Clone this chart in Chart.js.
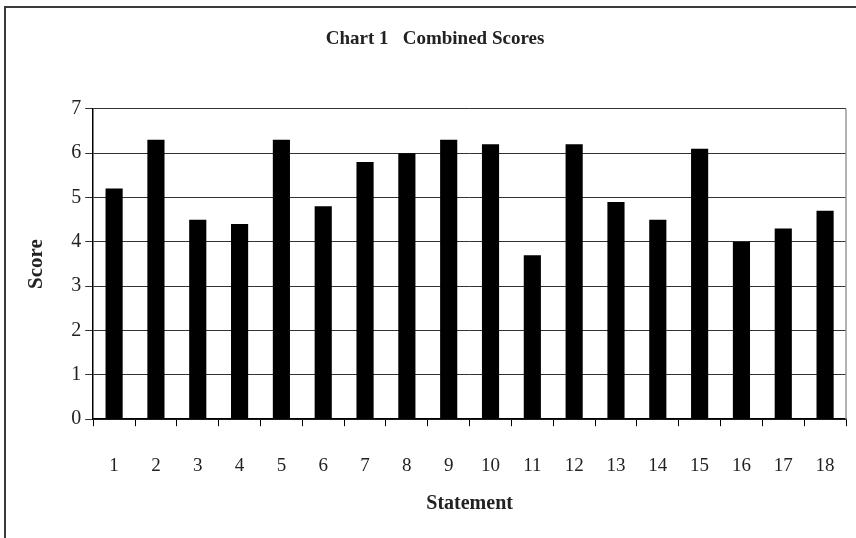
<!DOCTYPE html>
<html>
<head>
<meta charset="utf-8">
<script src="https://cdn.jsdelivr.net/npm/chart.js@4"></script>
<style>
  html, body { margin: 0; padding: 0; background: #fff; }
  #wrap { position: relative; width: 856px; height: 538px; overflow: hidden; }
  #frame { position: absolute; left: 4px; top: 6px; width: 900px; height: 600px;
           border-left: 2px solid #3a3a3a; border-top: 2px solid #3a3a3a; }
  canvas { position: absolute; left: 0; top: 0; }
</style>
</head>
<body>
<div id="wrap">
  <div id="frame"></div>
  <canvas id="scores" width="856" height="538"></canvas>
</div>
<script>
const statements = ['1','2','3','4','5','6','7','8','9','10','11','12','13','14','15','16','17','18'];
const scores = [5.2, 6.3, 4.5, 4.4, 6.3, 4.8, 5.8, 6.0, 6.3, 6.2, 3.7, 6.2, 4.9, 4.5, 6.1, 4.0, 4.3, 4.7];
const scoreTicks = [0, 1, 2, 3, 4, 5, 6, 7];

const serif = "'Liberation Serif', 'Times New Roman', serif";

// gray line on the right side of the plot area
const plotEdge = {
  id: 'plotEdge',
  afterDraw(chart) {
    const a = chart.chartArea;
    const ctx = chart.ctx;
    ctx.save();
    ctx.strokeStyle = '#999';
    ctx.lineWidth = 1.5;
    ctx.beginPath();
    ctx.moveTo(a.right, a.top);
    ctx.lineTo(a.right, a.bottom);
    ctx.stroke();
    ctx.restore();
  }
};

let ctx = document.getElementById("scores");
new Chart(ctx, {
  type: 'bar',
  data: {
    labels: statements,
    datasets: [{
      label: 'Score',
      data: scores,
      backgroundColor: '#000',
      borderWidth: 0,
      categoryPercentage: 1,
      barPercentage: 0.41
    }]
  },
  plugins: [plotEdge],
  options: {
    responsive: false,
    animation: false,
    layout: { padding: { left: 24, right: 10, top: 0, bottom: 22 } },
    plugins: {
      legend: { display: false },
      tooltip: { enabled: false },
      title: {
        display: true,
        text: 'Chart 1   Combined Scores',
        color: '#222',
        font: { family: serif, size: 19, weight: 'bold' },
        padding: { top: 28, bottom: 58 }
      }
    },
    scales: {
      x: {
        offset: true,
        // tick padding should only push the labels down, not squeeze the sides
        afterFit: function(scale) {
          scale.paddingLeft = 0;
          scale.paddingRight = 0;
        },
        grid: { offset: true, drawOnChartArea: false, tickLength: 7, color: '#000', lineWidth: 1 },
        border: { color: '#000', width: 1.5 },
        ticks: { color: '#222', font: { family: serif, size: 19 }, padding: 28, maxRotation: 0 },
        title: { display: true, text: 'Statement', color: '#222',
                 font: { family: serif, size: 20, weight: 'bold' }, padding: { top: -13, bottom: 0 } }
      },
      y: {
        min: 0,
        max: 7,
        afterBuildTicks: function(scale) {
          scale.ticks = scoreTicks.map(v => ({ value: v }));
        },
        grid: { color: '#333', lineWidth: 1, tickLength: 8 },
        border: { color: '#000', width: 1.5 },
        ticks: { color: '#222', font: { family: serif, size: 20 }, padding: 4 },
        title: { display: true, text: 'Score', color: '#222',
                 font: { family: serif, size: 21, weight: 'bold' }, padding: { top: 0, bottom: 18 } }
      }
    }
  }
});
</script>
</body>
</html>
